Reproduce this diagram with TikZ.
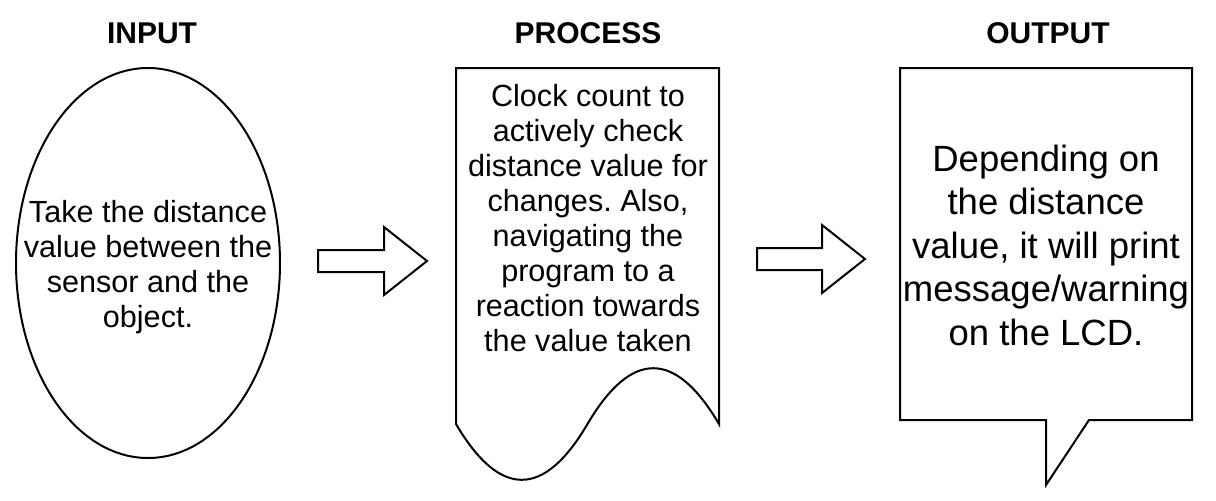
\documentclass[tikz,border=0pt]{standalone}
\usepackage{fontspec}
\setmainfont{Liberation Sans}
\usetikzlibrary{shapes.geometric}
\frenchspacing
\begin{document}
\begin{tikzpicture}[x=0.5pt, y=-0.5pt, line width=1pt,
		title/.style={font=\fontsize{15}{18}\selectfont\bfseries},
		body/.style={align=center, font=\fontsize{15.3}{17.5}\selectfont},
		bigbody/.style={align=center, font=\fontsize{18.25}{21.75}\selectfont}]
		\useasboundingbox (0,0) rectangle (1216,500);

		\node[title] (tin) at (152,33) {INPUT};
		\node[title] (tproc) at (588,33) {PROCESS};
		\node[title] (tout) at (1048,33) {OUTPUT};

		\node[draw, ellipse, minimum width=132pt, minimum height=195pt, inner sep=0pt] (input) at (148,263) {};
		\node[body] (tinput) at (148,267) {Take the distance\\value between the\\sensor and the\\object.};

		\draw (456,68) -- (719,68) -- (719,424) .. controls (675.2,349.6) and (631.3,349.6) .. (587.5,424) .. controls (543.7,498.4) and (499.8,498.4) .. (456,424) -- cycle;
		\node[body] (process) at (588,218) {Clock count to\\actively check\\distance value for\\changes. Also,\\navigating the\\program to a\\reaction towards\\the value taken};

		\draw (900,68) -- (1192,68) -- (1192,420) -- (1089,420) -- (1046,485) -- (1046,420) -- (900,420) -- cycle;
		\node[bigbody] (output) at (1046,245) {Depending on\\the distance\\value, it will print\\message/warning\\on the LCD.};

		\draw (318,250) -- (384,250) -- (384,227) -- (427,261) -- (384,295) -- (384,272) -- (318,272) -- cycle;
		\draw (757,248) -- (822,248) -- (822,225) -- (865,259) -- (822,293) -- (822,270) -- (757,270) -- cycle;
	\end{tikzpicture}
\end{document}
